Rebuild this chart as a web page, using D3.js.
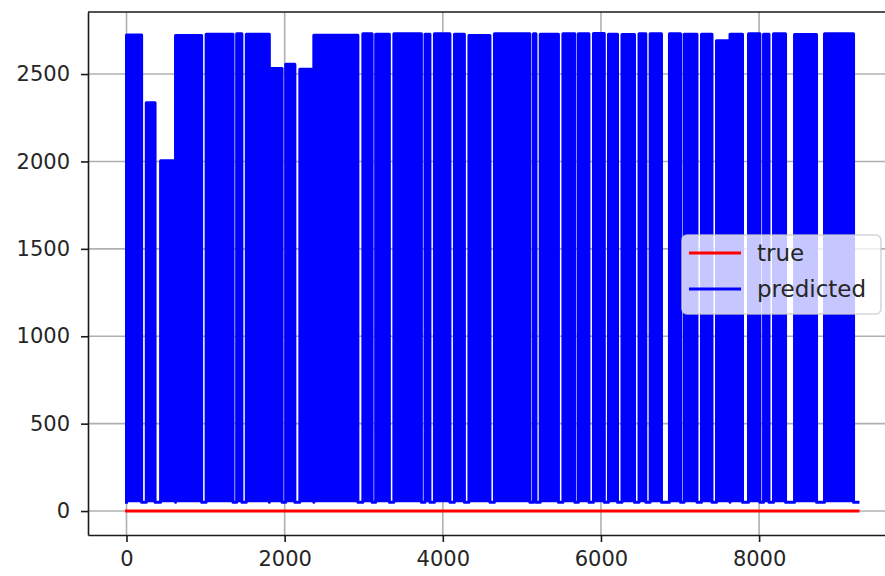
<!DOCTYPE html>
<html>
<head>
<meta charset="utf-8">
<script src="https://d3js.org/d3.v7.min.js"></script>
<style>
body { margin: 0; background: #fff; }
text { font-family: "DejaVu Sans", sans-serif; fill: #262626; }
</style>
</head>
<body>
<div id="plot"></div>
<script>
// last sample index of both series
const seriesEnd = 9250;

// "true" series: flat at zero
const trueX = [0, 9250];
const trueY = [0, 0];

// "predicted" series: swings fast between a low value and a block top,
// stays at the low value in between blocks (the white stripes)
const predLow = 50;
const blockStart = [0, 250, 431, 620, 1007, 1393, 1515, 1806, 2013, 2192,
    2369, 2989, 3151, 3381, 3775, 3894, 4147, 4330, 4653, 5146,
    5232, 5519, 5715, 5905, 6095, 6266, 6481, 6622, 6866, 7051,
    7271, 7461, 7632, 7866, 8056, 8182, 8448, 8827];
const blockEnd = [191, 361, 620, 950, 1347, 1459, 1806, 1967, 2129, 2369,
    2926, 3106, 3324, 3729, 3837, 4090, 4273, 4596, 5101, 5178,
    5462, 5670, 5848, 6042, 6209, 6424, 6567, 6765, 7006, 7214,
    7404, 7632, 7790, 8010, 8125, 8334, 8726, 9194];
const blockTop = [2723, 2336, 2004, 2720, 2728, 2730, 2728, 2532, 2556, 2527,
    2722, 2730, 2728, 2730, 2728, 2730, 2728, 2720, 2730, 2730,
    2728, 2730, 2730, 2732, 2728, 2726, 2730, 2730, 2730, 2728,
    2728, 2690, 2728, 2730, 2728, 2730, 2726, 2730];

const xTicks = [0, 2000, 4000, 6000, 8000];
const yTicks = [0, 500, 1000, 1500, 2000, 2500];
const legendLabels = ["true", "predicted"];

// axes box (right edge falls just outside the picture)
const box = {left: 88, top: 12, right: 894.5, bottom: 535};

const svg = d3.select("#plot")
    .append("svg")
    .attr("width", 885)
    .attr("height", 576);

let x = d3.scaleLinear()
    .domain([-487, 9712])
    .range([box.left, box.right]);

let y = d3.scaleLinear()
    .domain([-137, 2855])
    .range([box.bottom, box.top]);

// grid
svg.append("g")
    .selectAll("line")
    .data(xTicks)
    .enter()
    .append("line")
    .attr("x1", d => x(d)).attr("x2", d => x(d))
    .attr("y1", box.top).attr("y2", box.bottom)
    .attr("stroke", "#b0b0b0")
    .attr("stroke-width", 1.6);
svg.append("g")
    .selectAll("line")
    .data(yTicks)
    .enter()
    .append("line")
    .attr("x1", box.left).attr("x2", box.right)
    .attr("y1", d => y(d)).attr("y2", d => y(d))
    .attr("stroke", "#b0b0b0")
    .attr("stroke-width", 1.6);

// true line
const truePts = trueX.map((d, i) => [d, trueY[i]]);
svg.append("path")
    .datum(truePts)
    .attr("fill", "none")
    .attr("stroke", "#ff0000")
    .attr("stroke-width", 3)
    .attr("stroke-linecap", "square")
    .attr("d", d3.line()
        .x(d => x(d[0]))
        .y(d => y(d[1])));

// predicted line, built from the blocks
let predPts = [];
blockStart.forEach((s, i) => {
    predPts.push([s, predLow], [s, blockTop[i]],
        [blockEnd[i], blockTop[i]], [blockEnd[i], predLow]);
});
predPts.push([seriesEnd, predLow]);

svg.append("path")
    .datum(predPts)
    .attr("fill", "#0000ff")
    .attr("stroke", "#0000ff")
    .attr("stroke-width", 3)
    .attr("stroke-linejoin", "round")
    .attr("stroke-linecap", "square")
    .attr("d", d3.line()
        .x(d => x(d[0]))
        .y(d => y(d[1])));

// axes
const xAxis = svg.append("g")
    .attr("transform", "translate(0," + box.bottom + ")")
    .call(d3.axisBottom(x).tickValues(xTicks).tickFormat(d3.format("d"))
        .tickSize(7).tickSizeOuter(0).tickPadding(9));
const yAxis = svg.append("g")
    .attr("transform", "translate(" + box.left + ",0)")
    .call(d3.axisLeft(y).tickValues(yTicks).tickFormat(d3.format("d"))
        .tickSize(7).tickSizeOuter(0).tickPadding(11));
[xAxis, yAxis].forEach(a => {
    a.selectAll("path, line").attr("stroke", "#1a1a1a").attr("stroke-width", 1.6);
    a.selectAll("text").attr("font-size", 21).attr("font-family", "DejaVu Sans, sans-serif").attr("fill", "#262626");
});

// top spine
svg.append("line")
    .attr("x1", box.left).attr("x2", box.right)
    .attr("y1", box.top).attr("y2", box.top)
    .attr("stroke", "#1a1a1a")
    .attr("stroke-width", 1.6);

// legend
const legend = svg.append("g");
legend.append("rect")
    .attr("x", 682).attr("y", 235)
    .attr("width", 199).attr("height", 79)
    .attr("rx", 5)
    .attr("fill", "#ffffff").attr("fill-opacity", 0.78)
    .attr("stroke", "#cccccc").attr("stroke-opacity", 0.8)
    .attr("stroke-width", 1.6);

const legendColors = ["#ff0000", "#0000ff"];
legend.selectAll("line")
    .data(legendLabels)
    .enter()
    .append("line")
    .attr("x1", 689).attr("x2", 741)
    .attr("y1", (d, i) => 253 + i * 36).attr("y2", (d, i) => 253 + i * 36)
    .attr("stroke", (d, i) => legendColors[i])
    .attr("stroke-width", 3);
legend.selectAll("text")
    .data(legendLabels)
    .enter()
    .append("text")
    .attr("x", 757)
    .attr("y", (d, i) => 253 + i * 36)
    .attr("dy", "0.35em")
    .attr("font-size", 23)
    .text(d => d);
</script>
</body>
</html>
